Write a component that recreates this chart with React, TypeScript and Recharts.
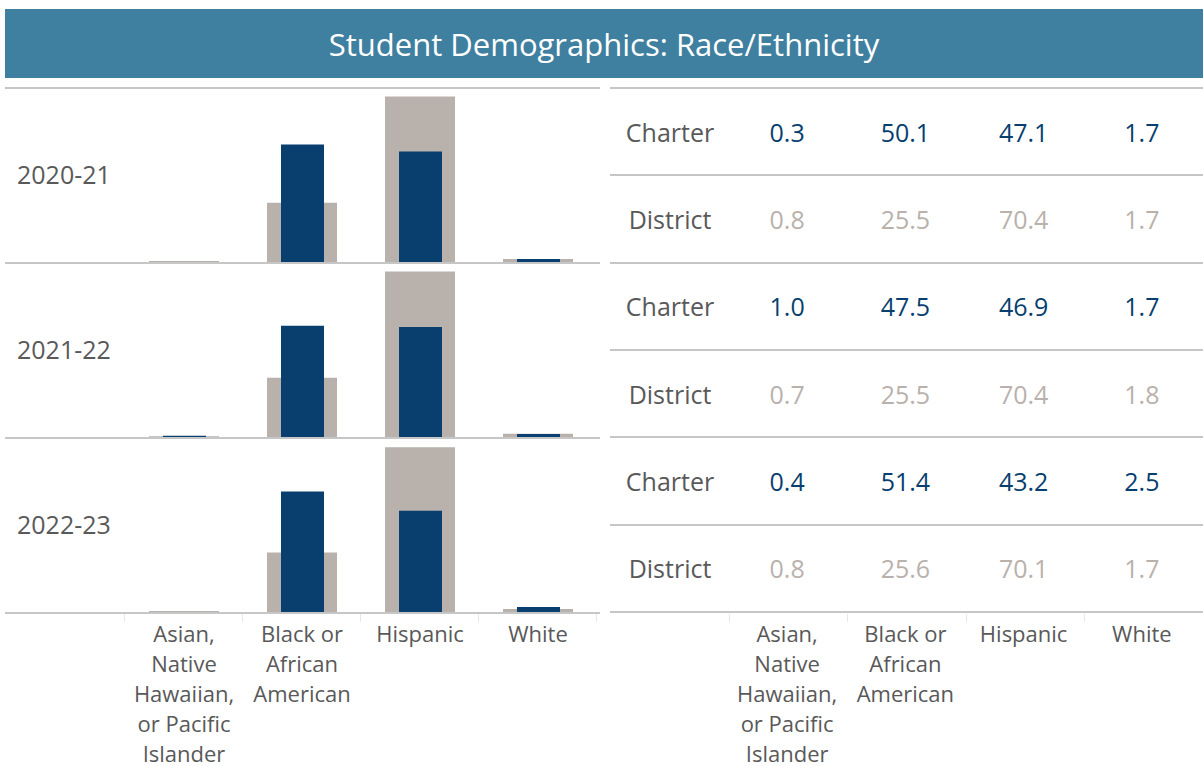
import React from "react";
import { BarChart, Bar, XAxis, YAxis } from "recharts";

const FONT = "'Open Sans', 'Noto Sans', sans-serif";
const NAVY = "#083f6f";
const GRAY = "#b9b1ac";
const TEXT = "#595959";
const LINE = "#c6c6c6";
const TITLE_BG = "#3f7fa0";

const title = "Student Demographics: Race/Ethnicity";
const categories = [
  "Asian, Native Hawaiian, or Pacific Islander",
  "Black or African American",
  "Hispanic",
  "White",
];
const categoryLines = [
  ["Asian,", "Native", "Hawaiian,", "or Pacific", "Islander"],
  ["Black or", "African", "American"],
  ["Hispanic"],
  ["White"],
];
const years = ["2020-21", "2021-22", "2022-23"];
const groupLabels = ["Charter", "District"];

const charter2021 = [0.3, 50.1, 47.1, 1.7];
const district2021 = [0.8, 25.5, 70.4, 1.7];
const charter2122 = [1.0, 47.5, 46.9, 1.7];
const district2122 = [0.7, 25.5, 70.4, 1.8];
const charter2223 = [0.4, 51.4, 43.2, 2.5];
const district2223 = [0.8, 25.6, 70.1, 1.7];

const charterByYear = [charter2021, charter2122, charter2223];
const districtByYear = [district2021, district2122, district2223];

const rows = years.map((_, yi) =>
  categories.map((cat, ci) => ({
    cat,
    charter: charterByYear[yi][ci],
    district: districtByYear[yi][ci],
  }))
);

const ROW_H = 175;
const TOP = 88;
const LEFT_X = 5;
const LEFT_W = 595;
const PLOT_LEFT = 120;
const PLOT_RIGHT = 3;
const TABLE_X = 610;
const TABLE_LABEL_W = 120;
const COL_W = 118.25;

function CatTick(props: any) {
  const { x, y, payload } = props;
  const idx = categories.indexOf(payload.value);
  const lines = idx >= 0 ? categoryLines[idx] : [String(payload.value)];
  return (
    <text x={x} y={y} textAnchor="middle" fill={TEXT} fontSize={22} fontFamily={FONT}>
      {lines.map((l, i) => (
        <tspan key={i} x={x} y={y - 1 + i * 30}>
          {l}
        </tspan>
      ))}
    </text>
  );
}

function HLine({ x, y, w }: { x: number; y: number; w: number }) {
  return (
    <div
      style={{
        position: "absolute",
        left: x,
        top: y - 1,
        width: w,
        height: 2,
        background: LINE,
      }}
    />
  );
}

function VTick({ x, y }: { x: number; y: number }) {
  return (
    <div
      style={{
        position: "absolute",
        left: x,
        top: y,
        width: 1,
        height: 8,
        background: "#e6e6e6",
      }}
    />
  );
}

export default function App() {
  const plotW = LEFT_W - PLOT_LEFT - PLOT_RIGHT;
  const band = plotW / categories.length;
  const tableRowH = (ROW_H * 3 - 1) / 6;
  return (
    <div
      style={{
        position: "absolute",
        left: 0,
        top: 0,
        width: 1203,
        height: 766,
        background: "#fff",
        fontFamily: FONT,
        overflow: "hidden",
      }}
    >
      <div
        style={{
          position: "absolute",
          left: 5,
          top: 9,
          width: 1198,
          height: 69,
          background: TITLE_BG,
          color: "#fff",
          fontSize: 31,
          display: "flex",
          alignItems: "center",
          justifyContent: "center",
        }}
      >
        {title}
      </div>

      {years.map((yr, yi) => {
        const isLast = yi === years.length - 1;
        const axisH = 155;
        return (
          <React.Fragment key={yr}>
            <div
              style={{
                position: "absolute",
                left: LEFT_X,
                top: TOP + yi * ROW_H,
              }}
            >
              <BarChart
                width={LEFT_W}
                height={isLast ? ROW_H + axisH : ROW_H}
                data={rows[yi]}
                margin={{ top: 0, right: PLOT_RIGHT, bottom: 0, left: PLOT_LEFT }}
                barGap={0}
              >
                <XAxis
                  xAxisId="d"
                  dataKey="cat"
                  hide={!isLast}
                  height={axisH}
                  axisLine={false}
                  tickLine={false}
                  tickSize={0}
                  tickMargin={0}
                  interval={0}
                  tick={<CatTick />}
                />
                <XAxis xAxisId="c" dataKey="cat" hide />
                <YAxis hide domain={[0, 74]} allowDataOverflow />
                <Bar
                  xAxisId="d"
                  dataKey="district"
                  fill={GRAY}
                  barSize={70}
                  isAnimationActive={false}
                />
                <Bar
                  xAxisId="c"
                  dataKey="charter"
                  fill={NAVY}
                  barSize={43}
                  isAnimationActive={false}
                />
              </BarChart>
            </div>
            <div
              style={{
                position: "absolute",
                left: 17,
                top: TOP + yi * ROW_H + 68,
                height: 36,
                lineHeight: "36px",
                fontSize: 25,
                color: TEXT,
              }}
            >
              {yr}
            </div>
          </React.Fragment>
        );
      })}

      {/* left panel lines */}
      <HLine x={LEFT_X} y={TOP} w={LEFT_W} />
      {years.map((yr, yi) => (
        <HLine key={"bl" + yr} x={LEFT_X} y={TOP + (yi + 1) * ROW_H} w={LEFT_W} />
      ))}
      {Array.from({ length: categories.length + 1 }).map((_, i) => (
        <VTick
          key={"lt" + i}
          x={LEFT_X + PLOT_LEFT + i * band - 1}
          y={TOP + 3 * ROW_H + 1}
        />
      ))}

      {/* right table */}
      <HLine x={TABLE_X} y={TOP} w={1203 - TABLE_X} />
      {years.map((yr, yi) =>
        groupLabels.map((g, gi) => {
          const r = yi * 2 + gi;
          const top = TOP + r * tableRowH;
          const vals = gi === 0 ? charterByYear[yi] : districtByYear[yi];
          const color = gi === 0 ? NAVY : GRAY;
          return (
            <React.Fragment key={yr + g}>
              <div
                style={{
                  position: "absolute",
                  left: TABLE_X,
                  top,
                  width: TABLE_LABEL_W,
                  height: tableRowH,
                  display: "flex",
                  alignItems: "center",
                  justifyContent: "center",
                  fontSize: 25,
                  color: TEXT,
                }}
              >
                {g}
              </div>
              {vals.map((v, ci) => (
                <div
                  key={ci}
                  style={{
                    position: "absolute",
                    left: TABLE_X + TABLE_LABEL_W + ci * COL_W - 2,
                    top,
                    width: COL_W,
                    height: tableRowH,
                    display: "flex",
                    alignItems: "center",
                    justifyContent: "center",
                    fontSize: 25,
                    color,
                  }}
                >
                  {v.toFixed(1)}
                </div>
              ))}
              <HLine x={TABLE_X} y={top + tableRowH} w={1203 - TABLE_X} />
            </React.Fragment>
          );
        })
      )}
      {Array.from({ length: categories.length }).map((_, i) => (
        <VTick
          key={"rt" + i}
          x={TABLE_X + TABLE_LABEL_W + i * COL_W - 1}
          y={TOP + 3 * ROW_H + 1}
        />
      ))}
      {categories.map((c, ci) => (
        <div
          key={"rc" + c}
          style={{
            position: "absolute",
            left: TABLE_X + TABLE_LABEL_W + ci * COL_W - 2,
            top: TOP + 3 * ROW_H + 5,
            width: COL_W,
            textAlign: "center",
            fontSize: 22,
            lineHeight: "30px",
            color: TEXT,
            whiteSpace: "pre-line",
          }}
        >
          {categoryLines[ci].join("\n")}
        </div>
      ))}
    </div>
  );
}
